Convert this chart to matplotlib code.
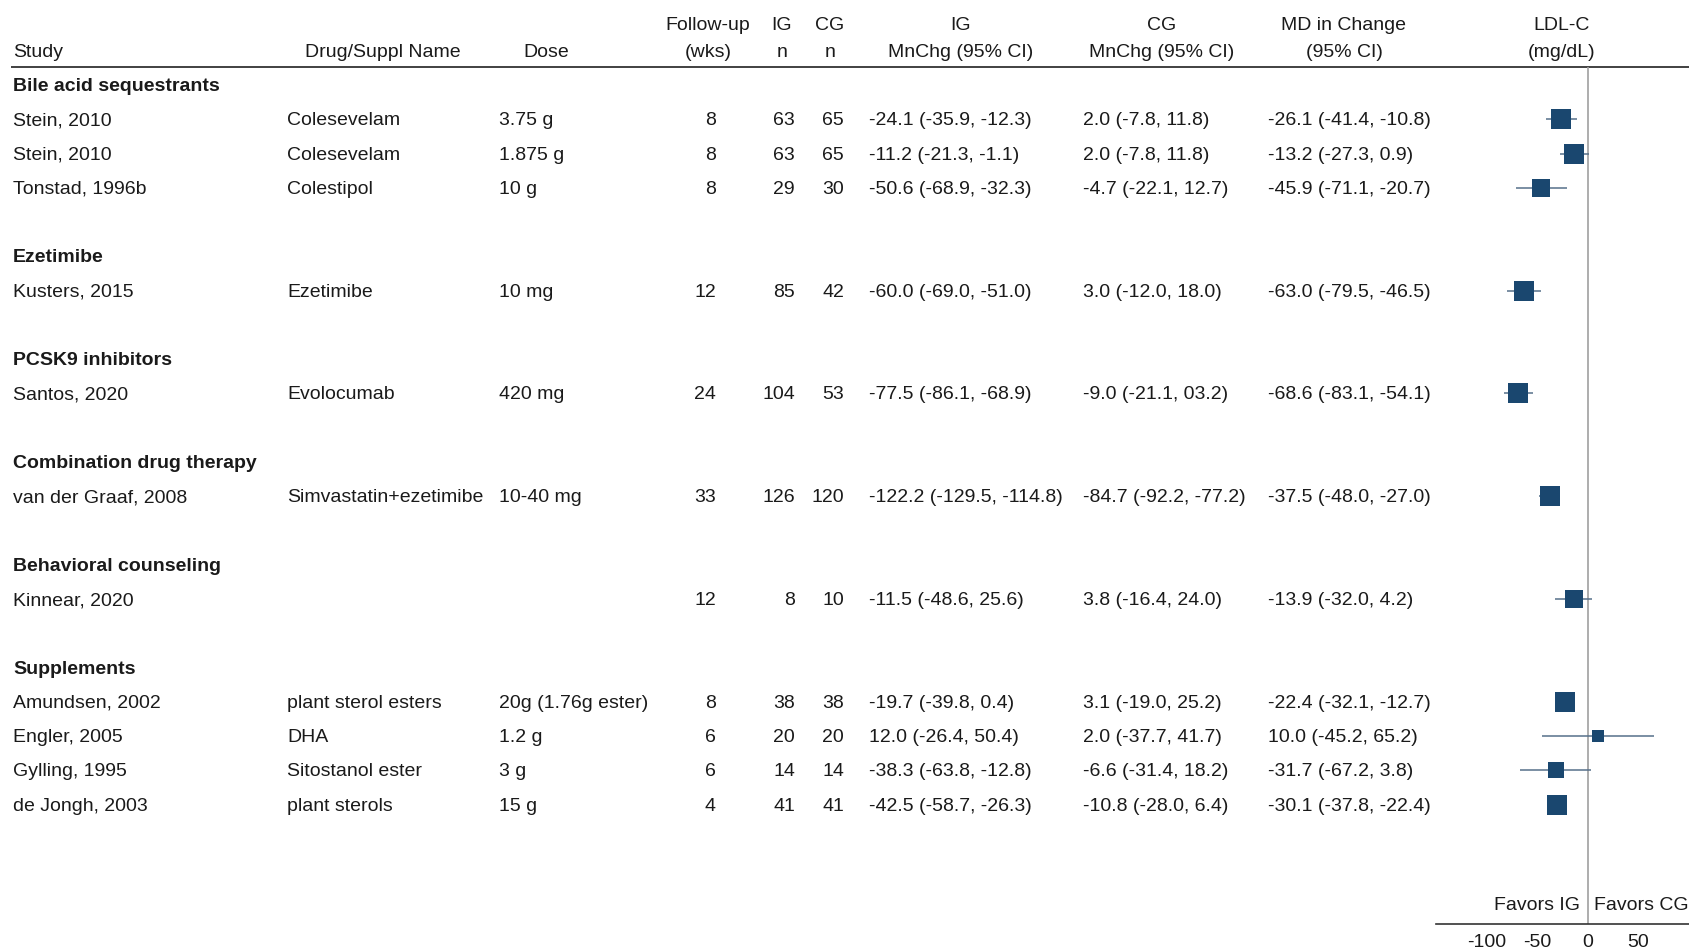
import matplotlib
matplotlib.use("Agg")
import matplotlib.pyplot as plt

plt.rcParams['font.family'] = ['Liberation Sans', 'DejaVu Sans']
plt.rcParams['axes.unicode_minus'] = False

# ---------------- data ----------------
groups = ["Bile acid sequestrants", "Ezetimibe", "PCSK9 inhibitors",
          "Combination drug therapy", "Behavioral counseling", "Supplements"]
group_of = [0, 0, 0, 1, 2, 3, 4, 5, 5, 5, 5]
studies = ["Stein, 2010", "Stein, 2010", "Tonstad, 1996b", "Kusters, 2015",
           "Santos, 2020", "van der Graaf, 2008", "Kinnear, 2020",
           "Amundsen, 2002", "Engler, 2005", "Gylling, 1995", "de Jongh, 2003"]
drugs = ["Colesevelam", "Colesevelam", "Colestipol", "Ezetimibe", "Evolocumab",
         "Simvastatin+ezetimibe", "", "plant sterol esters", "DHA",
         "Sitostanol ester", "plant sterols"]
doses = ["3.75 g", "1.875 g", "10 g", "10 mg", "420 mg", "10-40 mg", "",
         "20g (1.76g ester)", "1.2 g", "3 g", "15 g"]
followup = [8, 8, 8, 12, 24, 33, 12, 8, 6, 6, 4]
ig_n = [63, 63, 29, 85, 104, 126, 8, 38, 20, 14, 41]
cg_n = [65, 65, 30, 42, 53, 120, 10, 38, 20, 14, 41]
ig_chg = ["-24.1 (-35.9, -12.3)", "-11.2 (-21.3, -1.1)", "-50.6 (-68.9, -32.3)",
          "-60.0 (-69.0, -51.0)", "-77.5 (-86.1, -68.9)", "-122.2 (-129.5, -114.8)",
          "-11.5 (-48.6, 25.6)", "-19.7 (-39.8, 0.4)", "12.0 (-26.4, 50.4)",
          "-38.3 (-63.8, -12.8)", "-42.5 (-58.7, -26.3)"]
cg_chg = ["2.0 (-7.8, 11.8)", "2.0 (-7.8, 11.8)", "-4.7 (-22.1, 12.7)",
          "3.0 (-12.0, 18.0)", "-9.0 (-21.1, 03.2)", "-84.7 (-92.2, -77.2)",
          "3.8 (-16.4, 24.0)", "3.1 (-19.0, 25.2)", "2.0 (-37.7, 41.7)",
          "-6.6 (-31.4, 18.2)", "-10.8 (-28.0, 6.4)"]
md = [-26.1, -13.2, -45.9, -63.0, -68.6, -37.5, -13.9, -22.4, 10.0, -31.7, -30.1]
md_lo = [-41.4, -27.3, -71.1, -79.5, -83.1, -48.0, -32.0, -32.1, -45.2, -67.2, -37.8]
md_hi = [-10.8, 0.9, -20.7, -46.5, -54.1, -27.0, 4.2, -12.7, 65.2, 3.8, -22.4]
weights = [9.3, 9.7, 7.5, 9.0, 9.3, 9.7, 8.1, 9.7, 3.2, 5.9, 10.3]
ticks = [-100, -50, 0, 50]

# ---------------- layout ----------------
W, H = 1690, 950
FS = 14
TXT = '#1a1a1a'
NAVY = '#1a476f'
DY = 1.5  # text baseline nudge

fig = plt.figure(figsize=(W / 100, H / 100), dpi=100)
ax_t = fig.add_axes([0, 0, 1, 1])
ax_t.set_xlim(0, W)
ax_t.set_ylim(H, 0)
ax_t.axis('off')

ROW0, ROWH = 85, 34.27
def ypx(r):
    return ROW0 + ROWH * r + DY

# headers
h1, h2 = 23.7 + DY, 50.7 + DY
ax_t.text(13, h2, "Study", ha='left', va='center', fontsize=FS, color=TXT)
ax_t.text(383, h2, "Drug/Suppl Name", ha='center', va='center', fontsize=FS, color=TXT)
ax_t.text(546, h2, "Dose", ha='center', va='center', fontsize=FS, color=TXT)
for cx, l1, l2 in [(708, "Follow-up", "(wks)"), (782, "IG", "n"), (830, "CG", "n"),
                   (961, "IG", "MnChg (95% CI)"), (1162, "CG", "MnChg (95% CI)"),
                   (1344, "MD in Change", "(95% CI)"), (1562, "LDL-C", "(mg/dL)")]:
    ax_t.text(cx, h1, l1, ha='center', va='center', fontsize=FS, color=TXT)
    ax_t.text(cx, h2, l2, ha='center', va='center', fontsize=FS, color=TXT)
ax_t.hlines(67, 11, W, color='#333333', lw=1.3)

# rows
rows = []
r = 0
for g, name in enumerate(groups):
    ax_t.text(13, ypx(r), name, ha='left', va='center', fontsize=FS,
              color=TXT, fontweight='bold')
    r += 1
    for i in range(len(studies)):
        if group_of[i] == g:
            rows.append(r)
            y = ypx(r)
            ax_t.text(13, y, studies[i], ha='left', va='center', fontsize=FS, color=TXT)
            ax_t.text(287, y, drugs[i], ha='left', va='center', fontsize=FS, color=TXT)
            ax_t.text(499, y, doses[i], ha='left', va='center', fontsize=FS, color=TXT)
            ax_t.text(716, y, str(followup[i]), ha='right', va='center', fontsize=FS, color=TXT)
            ax_t.text(795, y, str(ig_n[i]), ha='right', va='center', fontsize=FS, color=TXT)
            ax_t.text(844, y, str(cg_n[i]), ha='right', va='center', fontsize=FS, color=TXT)
            ax_t.text(869, y, ig_chg[i], ha='left', va='center', fontsize=FS, color=TXT)
            ax_t.text(1083, y, cg_chg[i], ha='left', va='center', fontsize=FS, color=TXT)
            ax_t.text(1268, y, f"{md[i]:.1f} ({md_lo[i]:.1f}, {md_hi[i]:.1f})",
                      ha='left', va='center', fontsize=FS, color=TXT)
            r += 1
    r += 1

# forest axes
ax_l, ax_r = 1436, W
ax_b, ax_top = 924, 67
ax_f = fig.add_axes([ax_l / W, (H - ax_b) / H, (ax_r - ax_l) / W, (ax_b - ax_top) / H])
ax_f.set_xlim(-150, 101.3)
ax_f.set_ylim((ax_b - ROW0) / ROWH, (ax_top - ROW0) / ROWH)
ax_f.patch.set_alpha(0)
for s in ['top', 'right', 'left']:
    ax_f.spines[s].set_visible(False)
ax_f.spines['bottom'].set_color('#333333')
ax_f.spines['bottom'].set_linewidth(1.2)
ax_f.set_yticks([])
ax_f.set_xticks(ticks)
ax_f.set_xticklabels([str(t) for t in ticks])
ax_f.tick_params(axis='x', length=0, pad=7.5, labelsize=FS, labelcolor=TXT)
ax_f.axvline(0, color='#a0a0a0', lw=1.2, zorder=1)

for i, rr in enumerate(rows):
    ax_f.hlines(rr, md_lo[i], md_hi[i], color='#56708a', lw=1.1, zorder=2)
    ax_f.plot(md[i], rr, marker='s', color=NAVY, markersize=4.6 * weights[i] ** 0.5,
              markeredgewidth=0, zorder=3)

yf = (905 - ROW0) / ROWH
ax_f.text(-7.6, yf, "Favors IG", ha='right', va='center', fontsize=FS, color=TXT)
ax_f.text(6.5, yf, "Favors CG", ha='left', va='center', fontsize=FS, color=TXT)

fig.savefig("out.png", dpi=100)
